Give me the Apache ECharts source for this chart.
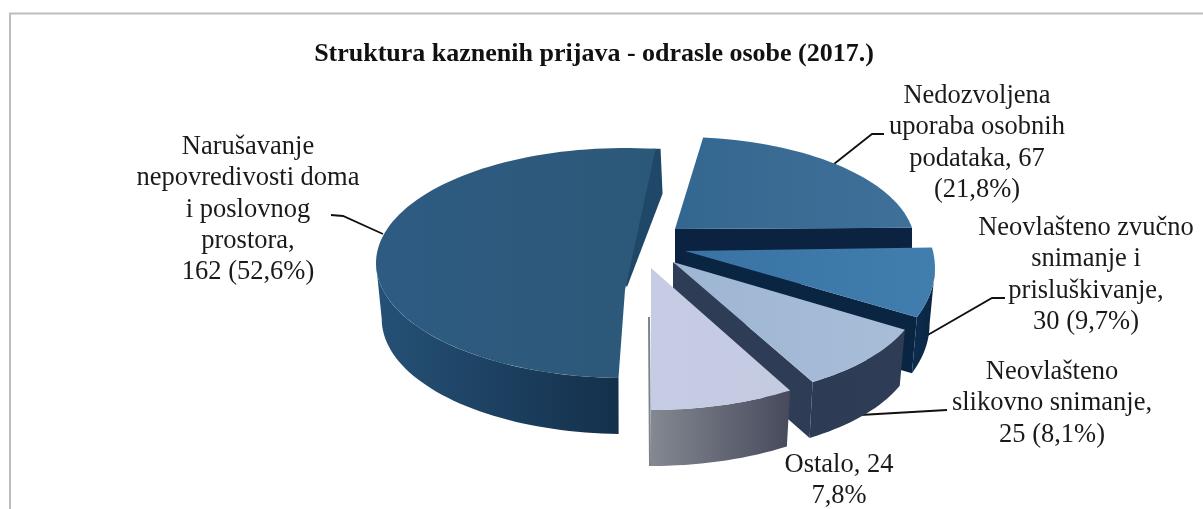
<!DOCTYPE html>
<html>
<head>
<meta charset="utf-8">
<style>html,body{margin:0;padding:0;background:#fff}#c{width:1203px;height:509px}</style>
<script src="https://cdn.jsdelivr.net/npm/echarts@6/dist/echarts.min.js"></script>
</head>
<body>
<div id="c"></div>
<script>
// ---- data ----
const chartTitle = 'Struktura kaznenih prijava - odrasle osobe (2017.)';
const categories = [
  'Narušavanje nepovredivosti doma i poslovnog prostora',
  'Nedozvoljena uporaba osobnih podataka',
  'Neovlašteno zvučno snimanje i prisluškivanje',
  'Neovlašteno slikovno snimanje',
  'Ostalo'
];
const values = [162, 67, 30, 25, 24];
const labelLines = [
  ['Narušavanje', 'nepovredivosti doma', 'i poslovnog', 'prostora,', '162 (52,6%)'],
  ['Nedozvoljena', 'uporaba osobnih', 'podataka, 67', '(21,8%)'],
  ['Neovlašteno zvučno', 'snimanje i', 'prisluškivanje,', '30 (9,7%)'],
  ['Neovlašteno', 'slikovno snimanje,', '25 (8,1%)'],
  ['Ostalo, 24', '7,8%']
];

// ---- layout and style ----
const startAngle = 176.7;
const depth = 56;
const wallShrink = 0.977;
const faceColors = [
  ['#2e5b82', '#2c5878'], ['#34678f', '#3f7099'], ['#3873a3', '#427ead'],
  ['#9fb6d3', '#a7bdd8'], ['#c6cce4', '#c4cae0']
];
const wallColors = [
  ['#255176', '#14304b'], ['#0a2240', '#0b2340'], ['#0d2c4e', '#0a2542'],
  ['#2d3b55', '#2f3c55'], ['#838891', '#474a5c']
];
const slices = [
  {ax: 625, ay: 290, cx: 625, cy: 263, rx: 249, ry: 115, d0: 4.8, d1: 1, thinWall: true},
  {ax: 675, ay: 229, cx: 680, cy: 245, rx: 235, ry: 108, d0: -0.4, d1: -3.5},
  {ax: 685, ay: 251, cx: 700, cy: 268, rx: 235, ry: 128, d0: -3.6, d1: -6.8},
  {ax: 673, ay: 262, cx: 680, cy: 292, rx: 240, ry: 108, d0: -9, d1: -2.2},
  {ax: 651, ay: 268, cx: 651, cy: 295, rx: 249, ry: 115, d0: -2.6, d1: 3.3, noCut: true, edgeStrip: true}
];
const labelLayout = [
  {x: 248, y: 147}, {x: 977, y: 96}, {x: 1086, y: 228}, {x: 1052, y: 372}, {x: 839, y: 465}
];
const lineHeight = 31.3;
const leaders = [
  [[331, 215], [343, 216], [383, 234]],
  [[884, 134], [872, 134], [834, 164]],
  [[1005, 298], [992, 298], [926, 336]],
  [[947, 410], [860, 415]],
  null
];
const FONT = '"Liberation Serif","Times New Roman",serif';
const total = values.reduce((a, b) => a + b, 0);

function arcPt(g, deg, dy, k) {
  const t = deg * Math.PI / 180;
  return [g.cx + (k || 1) * g.rx * Math.sin(t), g.cy - g.ry * Math.cos(t) + (dy || 0)];
}
function arcPts(g, a, b, dy, k) {
  const pts = [], n = Math.max(2, Math.ceil(Math.abs(b - a) / 2));
  for (let j = 0; j <= n; j++) pts.push(arcPt(g, a + (b - a) * j / n, dy, k));
  return pts;
}
function grad(c) {
  return {type: 'linear', x: 0, y: 0, x2: 1, y2: 0, colorStops: [{offset: 0, color: c[0]}, {offset: 1, color: c[1]}]};
}
function renderSlice(params, api) {
  const i = params.dataIndex;
  let before = 0;
  for (let k = 0; k < i; k++) before += values[k];
  const g = slices[i];
  const a0 = startAngle + before / total * 360 + g.d0;
  const a1 = startAngle + (before + api.value(0)) / total * 360 + g.d1;
  const children = [];
  const P1 = arcPt(g, a1);
  // leader sits under the slice it points at
  if (leaders[i]) {
    children.push({type: 'polyline', shape: {points: leaders[i]}, style: {stroke: '#111', lineWidth: 1.8, fill: null}});
  }
  // cut face
  if (g.thinWall) {
    children.push({type: 'polygon', shape: {points: [[P1[0] - 3, P1[1]], [P1[0] + 5, P1[1]], [P1[0] + 7, P1[1] + 45], [g.ax + 2, g.ay - 3], [g.ax, g.ay - 6]]},
      style: {fill: '#1f4868'}});
  } else if (!g.noCut) {
    const k = (((a1 % 360) + 360) % 360) > 90 ? wallShrink : 1;
    children.push({type: 'polygon', shape: {points: [[g.ax, g.ay], P1, arcPt(g, a1, depth, k), [g.ax, g.ay + depth]]},
      style: {fill: wallColors[i][1]}});
  }
  if (g.edgeStrip) {
    children.push({type: 'polyline', shape: {points: [[g.ax - 2, g.ay + 49], [g.ax - 1, P1[1] + depth]]},
      style: {stroke: '#7c828e', lineWidth: 2, fill: null}});
  }
  // outer wall: only the part of the rim that faces the viewer
  const norm = a => ((a % 360) + 360) % 360;
  const w0 = norm(a0), w1 = w0 + (a1 - a0);
  const lo = Math.max(w0, 90), hi = Math.min(w1, 270);
  if (hi > lo) {
    const top = arcPts(g, lo, hi, 0), bot = arcPts(g, lo, hi, depth, wallShrink).reverse();
    children.push({type: 'polygon', shape: {points: top.concat(bot)}, style: {fill: grad(wallColors[i])}});
  }
  // top face
  const face = arcPts(g, a0, a1, 0);
  face.push([g.ax, g.ay]);
  children.push({type: 'polygon', shape: {points: face}, style: {fill: grad(faceColors[i])}});
  // label
  labelLines[i].forEach((t, k) => {
    children.push({type: 'text', style: {text: t, x: labelLayout[i].x, y: labelLayout[i].y + k * lineHeight,
      align: 'center', verticalAlign: 'middle', font: '26.5px ' + FONT, fill: '#1a1a1a'}});
  });
  return {type: 'group', children};
}

const chart = echarts.init(document.getElementById('c'), null, {renderer: 'canvas'});
chart.setOption({
  animation: false,
  backgroundColor: '#fff',
  title: {
    text: chartTitle, left: 589, top: 36, textAlign: 'center',
    textStyle: {fontFamily: FONT, fontSize: 26, fontWeight: 'bold', color: '#111'}
  },
  graphic: [
    {type: 'polyline', shape: {points: [[10, 509], [10, 13.5], [1203, 13.5]]}, style: {stroke: '#bdbdbd', lineWidth: 2, fill: null}}
  ],
  series: [{
    type: 'custom', coordinateSystem: 'none', renderItem: renderSlice,
    data: values.map((v, i) => ({name: categories[i], value: [v]}))
  }]
});
</script>
</body>
</html>
